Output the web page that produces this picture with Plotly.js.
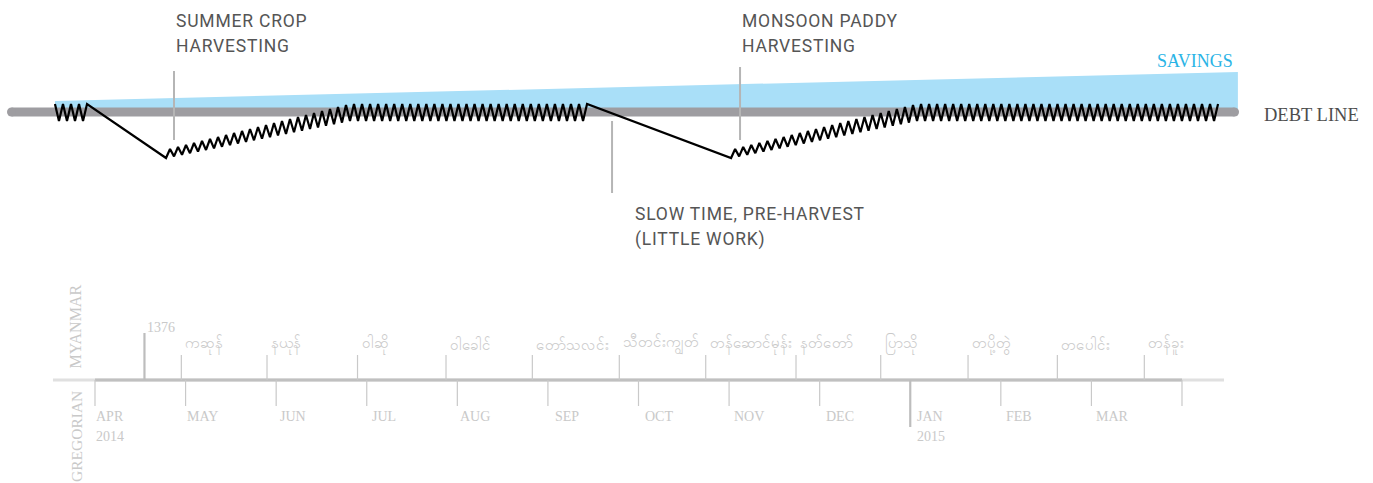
<!DOCTYPE html>
<html><head><meta charset="utf-8">
<script src="https://cdn.plot.ly/plotly-3.0.1.min.js"></script>
<style>html,body{margin:0;padding:0;background:#fff;}#chart{width:1373px;height:483px;}</style>
</head><body><div id="chart"></div><script>
// x unit = months since 1 April 2014; y unit = balance relative to the debt line
const gregLabels = ['APR','MAY','JUN','JUL','AUG','SEP','OCT','NOV','DEC','JAN','FEB','MAR'];
const gregTickMonths = [0,1,2,3,4,5,6,7,8,9,10,11,12];
const gregYearMonths = [0, 9];
const gregYearLabels = ['2014', '2015'];

const myanmarLabels = ['ကဆုန်','နယုန်','ဝါဆို','ဝါခေါင်','တော်သလင်း','သီတင်းကျွတ်','တန်ဆောင်မုန်း','နတ်တော်','ပြာသို','တပို့တွဲ','တပေါင်း','တန်ခူး'];
const myanmarTickMonths = [0.953,1.899,2.898,3.875,4.828,5.788,6.742,7.739,8.674,9.638,10.624,11.584];
const myanmarYearLabel = '1376';
const myanmarYearMonth = 0.546;

// savings wedge and debt line
const savingsMonths = [-0.442, 12.617];
const savingsLevels = [11, 40];
const debtMonths = [-0.922, 12.58];
const debtLevels = [0, 0];

// income / debt cycle phases (zigzag)
const phaseStart      = [-0.442, 0.784, 2.815, 7.022, 9.075];
const phaseEnd        = [-0.088, 2.815, 5.432, 9.075, 12.398];
const phaseStartLevel = [-0.5, -42, -0.5, -42, -0.5];
const phaseEndLevel   = [-0.5, -0.5, -0.5, -0.5, -0.5];
const phaseStartSwing = [8.5, 4, 8.5, 4, 8.5];
const phaseEndSwing   = [8.5, 8.5, 8.5, 8.5, 8.5];
const phaseStrokes    = [8, 46, 59, 46, 75];
const phaseFirstDir   = [1, -1, -1, -1, -1];

// event markers
const eventLabels1 = ['SUMMER CROP','MONSOON PADDY','SLOW TIME, PRE-HARVEST'];
const eventLabels2 = ['HARVESTING','HARVESTING','(LITTLE WORK)'];
const eventMarkMonths = [0.872, 7.121, 5.708];
const eventMarkTop = [41, 45, -9];
const eventMarkBottom = [-28, -28, -81];
const eventTextMonths = [0.894, 7.143, 5.962];
const eventTextLevels = [91, 91, -102];

const PXM = 1087/12;
const SERIF = '"Liberation Serif","DejaVu Serif",serif';
const SANS = 'Roboto,"Liberation Sans",sans-serif';
const TL = '#c9c9c9';
const gregShift = [-1,-1,2,3,1,5,4,3,4,5,3,3];
const track = t => '<span style="letter-spacing:0.8px">' + t + '</span>';

// build zigzag
const zx = [], zy = [];
for (let p = 0; p < phaseStart.length; p++) {
  const n = phaseStrokes[p];
  for (let k = 0; k <= n; k++) {
    const t = k / n;
    const x = phaseStart[p] + t*(phaseEnd[p]-phaseStart[p]);
    if (k === 0 && zx.length && Math.abs(zx[zx.length-1]-x) < 1e-6) continue;
    const mid = phaseStartLevel[p] + t*(phaseEndLevel[p]-phaseStartLevel[p]);
    const sw = phaseStartSwing[p] + t*(phaseEndSwing[p]-phaseStartSwing[p]);
    const dir = (k % 2 === 0) ? phaseFirstDir[p] : -phaseFirstDir[p];
    zx.push(x); zy.push(mid + dir*sw);
  }
}

const traces = [
  {x:[savingsMonths[0],savingsMonths[0],savingsMonths[1],savingsMonths[1]],
   y:[0,savingsLevels[0],savingsLevels[1],0], fill:'toself', fillcolor:'#a9dff8',
   line:{width:0,color:'#a9dff8'}, mode:'lines', hoverinfo:'skip'},
  {x:debtMonths, y:debtLevels, mode:'lines+markers', line:{color:'#9e9da1',width:9},
   marker:{color:'#9e9da1',size:9}, hoverinfo:'skip'},
  {x:zx, y:zy, mode:'lines', line:{color:'#000',width:2.2}, hoverinfo:'skip'}
];

const AX = -268; // timeline axis level
const shapes = [];
const annotations = [];
shapes.push({type:'line', xref:'x', yref:'y', x0:-0.464, x1:12.464, y0:AX, y1:AX, line:{color:'#e0e0e0',width:3}});
shapes.push({type:'line', xref:'x', yref:'y', x0:0, x1:12, y0:AX, y1:AX, line:{color:'#c0c0c0',width:3}});
gregTickMonths.forEach((m,i) => {
  const isYear = gregYearMonths.includes(m) && m !== 0;
  shapes.push({type:'line', xref:'x', yref:'y', x0:m, x1:m, y0:AX, y1:isYear? -315 : -294,
    line:{color: isYear ? '#bdbdbd' : TL, width: isYear ? 2.2 : 1.2}});
  if (i < gregLabels.length) annotations.push({x:m, y:-304, xref:'x', yref:'y', text:gregLabels[i],
    showarrow:false, xanchor:'left', yanchor:'middle', xshift:gregShift[i], font:{family:SERIF,size:14,color:TL}});
});
gregYearMonths.forEach((m,i) => annotations.push({x:m, y:-324, xref:'x', yref:'y', text:gregYearLabels[i],
  showarrow:false, xanchor:'left', yanchor:'middle', xshift:gregShift[m], font:{family:SERIF,size:14,color:TL}}));
shapes.push({type:'line', xref:'x', yref:'y', x0:myanmarYearMonth, x1:myanmarYearMonth, y0:AX, y1:-221, line:{color:'#bdbdbd',width:2.2}});
annotations.push({x:myanmarYearMonth, y:-215, xref:'x', yref:'y', text:myanmarYearLabel, showarrow:false,
  xanchor:'left', yanchor:'middle', xshift:1, font:{family:SERIF,size:14,color:TL}});
myanmarTickMonths.forEach((m,i) => {
  shapes.push({type:'line', xref:'x', yref:'y', x0:m, x1:m, y0:AX, y1:-243, line:{color:TL,width:1.2}});
  annotations.push({x:m, y:-232, xref:'x', yref:'y', text:myanmarLabels[i], showarrow:false,
    xanchor:'left', yanchor:'middle', xshift:2, font:{family:SERIF,size:15,color:TL}});
});
annotations.push({x:-0.21, y:-214.5, xref:'x', yref:'y', text:'MYANMAR', textangle:-90, showarrow:false,
  xanchor:'center', yanchor:'middle', font:{family:SERIF,size:16,color:TL}});
annotations.push({x:-0.21, y:-324, xref:'x', yref:'y', text:'GREGORIAN', textangle:-90, showarrow:false,
  xanchor:'center', yanchor:'middle', font:{family:SERIF,size:15.5,color:TL}});
eventLabels1.forEach((t,i) => {
  shapes.push({type:'line', xref:'x', yref:'y', x0:eventMarkMonths[i], x1:eventMarkMonths[i],
    y0:eventMarkTop[i], y1:eventMarkBottom[i], line:{color:'#b5b5b5',width:2}});
  annotations.push({x:eventTextMonths[i], y:eventTextLevels[i], xref:'x', yref:'y', text:track(t), showarrow:false,
    xanchor:'left', yanchor:'middle', xshift:-2, font:{family:SANS,size:17.5,color:'#555'}});
  annotations.push({x:eventTextMonths[i], y:eventTextLevels[i]-25, xref:'x', yref:'y', text:track(eventLabels2[i]), showarrow:false,
    xanchor:'left', yanchor:'middle', xshift:-2, font:{family:SANS,size:17.5,color:'#555'}});
});
annotations.push({x:savingsMonths[1], y:51, xref:'x', yref:'y', text:'SAVINGS', showarrow:false,
  xanchor:'right', yanchor:'middle', xshift:-3, font:{family:SERIF,size:18,color:'#2ab4e6'}});
annotations.push({x:debtMonths[1], y:-3, xref:'x', yref:'y', text:'DEBT LINE', showarrow:false,
  xanchor:'left', yanchor:'middle', xshift:27, font:{family:SERIF,size:18.5,color:'#4d4d4d'}});

const layout = {
  width:1373, height:483, margin:{l:0,r:0,t:0,b:0}, paper_bgcolor:'#fff', plot_bgcolor:'#fff',
  showlegend:false,
  xaxis:{range:[-95/PXM,(1373-95)/PXM], visible:false, fixedrange:true},
  yaxis:{range:[-371,112], visible:false, fixedrange:true},
  shapes:shapes, annotations:annotations
};
Plotly.newPlot('chart', traces, layout, {staticPlot:true, displayModeBar:false});
</script></body></html>
